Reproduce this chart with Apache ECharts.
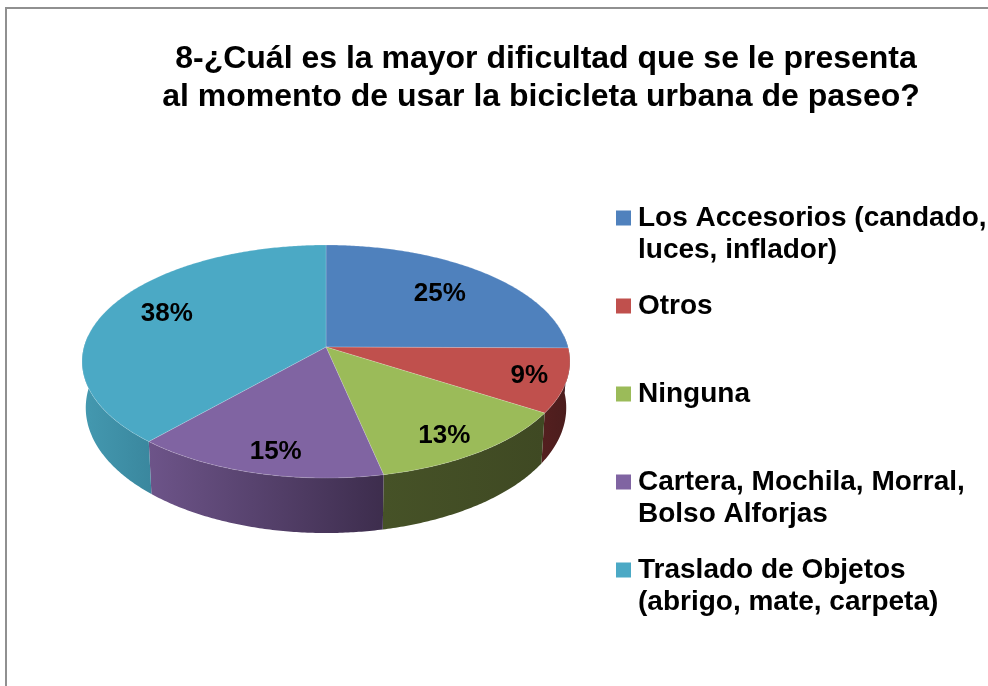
<!DOCTYPE html>
<html><head><meta charset="utf-8">
<style>html,body{margin:0;padding:0;background:#fff}#c{width:988px;height:686px}</style>
<script src="https://cdn.jsdelivr.net/npm/echarts@6/dist/echarts.min.js"></script>
</head><body><div id="c"></div>
<script>
const titleLines = ['8-¿Cuál es la mayor dificultad que se le presenta', 'al momento de usar la bicicleta urbana de paseo?'];
const categories = ['Los Accesorios (candado,\nluces, inflador)', 'Otros', 'Ninguna', 'Cartera, Mochila, Morral,\nBolso Alforjas', 'Traslado de Objetos\n(abrigo, mate, carpeta)'];
const values = [25.1, 8.9, 12.6, 14.9, 38.4];
const colors = ['#4F81BD', '#C0504D', '#9BBB59', '#8064A2', '#4BA9C5'];
const wallColors = [['#3b618e', '#3b618e'], ['#541f1f', '#4a1d1d'], ['#465227', '#3f4923'], ['#6d5489', '#3d2d4d'], ['#4499b0', '#3a879e']];
const labelRadius = [0.71, 0.85, 0.8, 0.835, 0.75];
const labelNudge = [[-1, 1], [0, 0], [-2, 7], [7, 2], [5, -4]];

const total = values.reduce((a, b) => a + b, 0);
const cx = 326, cy = 347, k = 0.1245, A = 114.7, B = 242;
const project = (u, v) => { const d = 1 - k * v; return [cx + B * u / d, cy + A * v / d]; };
const onTop = (t, r) => project(r * Math.sin(t), -r * Math.cos(t));
const onBase = t => {
  const v = -Math.cos(t), p = project(Math.sin(t), v);
  return [cx + (p[0] - cx) * 0.985, p[1] + 45 + 10 * v];
};
const arc = (a, b, f) => {
  const n = Math.max(2, Math.ceil((b - a) / 0.01)), out = [];
  for (let i = 0; i <= n; i++) out.push(f(a + (b - a) * i / n));
  return out;
};
const wallFrom = 84 * Math.PI / 180, wallTo = 276 * Math.PI / 180;

function sliceRenderer(i) {
  return function (params, api) {
    const value = api.value(0);
    let before = 0;
    for (let j = 0; j < i; j++) before += values[j];
    const a = before / total * 2 * Math.PI, b = a + value / total * 2 * Math.PI;
    const children = [];
    const wa = Math.max(a, wallFrom), wb = Math.min(b, wallTo);
    if (wb > wa) {
      const top = arc(wa, wb, t => onTop(t, 1));
      const base = arc(wa, wb, onBase).reverse();
      children.push({
        type: 'polygon', z2: 1, shape: { points: top.concat(base) },
        style: { fill: { type: 'linear', x: 0, y: 0, x2: 1, y2: 0, colorStops: [
          { offset: 0, color: wallColors[i][0] }, { offset: 1, color: wallColors[i][1] }] } }
      });
    }
    children.push({
      type: 'polygon', z2: 2,
      shape: { points: [[cx, cy]].concat(arc(a, b, t => onTop(t, 1))) },
      style: { fill: colors[i], stroke: 'rgba(255,255,255,0.22)', lineWidth: 0.8 }
    });
    const lp = onTop((a + b) / 2, labelRadius[i]);
    children.push({
      type: 'text', z2: 3, x: lp[0] + labelNudge[i][0], y: lp[1] + labelNudge[i][1],
      style: { text: Math.round(value / total * 100) + '%', align: 'center', verticalAlign: 'middle',
        font: 'bold 26px "Liberation Sans", Arial, sans-serif', fill: '#000' }
    });
    return { type: 'group', children };
  };
}

const titleStyle = { fontFamily: '"Liberation Sans", Arial, sans-serif', fontWeight: 'bold', fontSize: 32, color: '#000' };
const chart = echarts.init(document.getElementById('c'), null, { renderer: 'canvas' });
chart.setOption({
  animation: false,
  backgroundColor: '#fff',
  graphic: [{
    type: 'rect', silent: true, z: 0,
    shape: { x: 6, y: 8, width: 1200, height: 900 },
    style: { fill: 'none', stroke: '#909090', lineWidth: 2 }
  }],
  title: [
    { text: titleLines[0], left: 541, top: 38, textAlign: 'center', textStyle: titleStyle },
    { text: titleLines[1], left: 536, top: 76, textAlign: 'center', textStyle: titleStyle }
  ],
  legend: {
    orient: 'vertical', left: 611, top: 197, itemWidth: 17, itemHeight: 64, itemGap: 24,
    icon: 'path://M0 8.5L15 8.5L15 23.5L0 23.5ZM0 0L0 0M17 64L17 64',
    selectedMode: false,
    textStyle: { fontFamily: '"Liberation Sans", Arial, sans-serif', fontWeight: 'bold', fontSize: 28, lineHeight: 32, color: '#000' },
    formatter: n => n.includes('\n') ? n : n + '\n ',
    data: categories
  },
  series: categories.map((name, i) => ({
    type: 'custom', name, coordinateSystem: 'none', silent: true,
    itemStyle: { color: colors[i] },
    data: [[values[i]]],
    renderItem: sliceRenderer(i)
  }))
});
</script></body></html>
